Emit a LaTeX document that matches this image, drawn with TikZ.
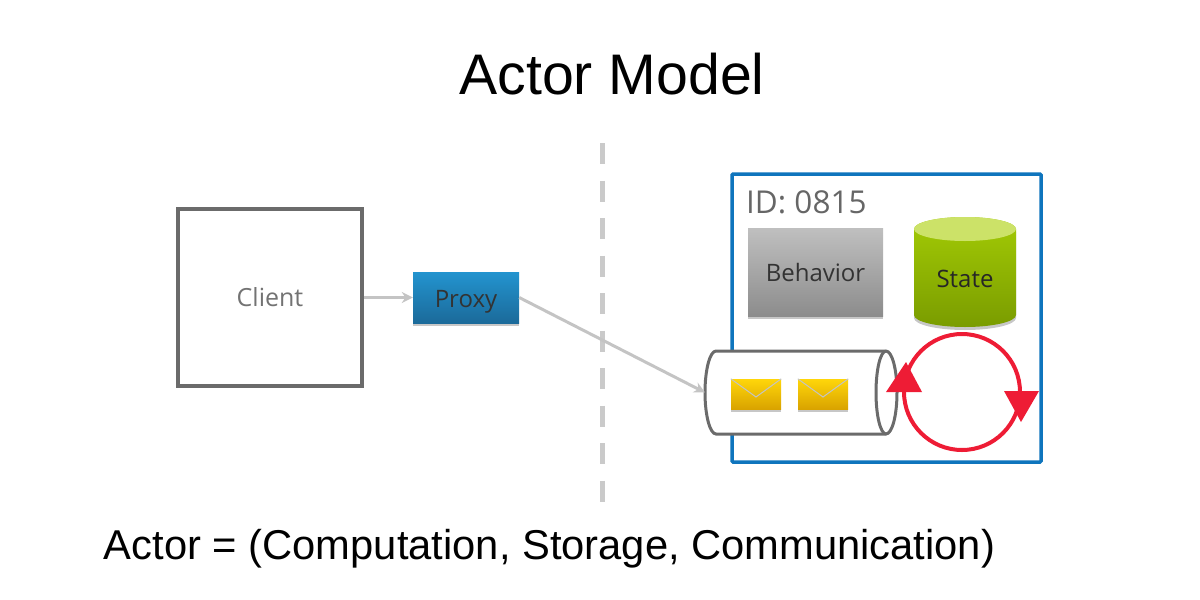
\documentclass[tikz,border=0pt]{standalone}
\usepackage{fontspec}
\setmainfont{Liberation Sans}
\newfontfamily\labelfont{Open Sans}
\usetikzlibrary{arrows.meta,shadows}
\definecolor{boxgray}{HTML}{6B6B6B}
\definecolor{linkgray}{HTML}{C4C4C4}
\definecolor{actorblue}{HTML}{0F75BD}
\definecolor{loopred}{HTML}{EE1C35}
\definecolor{proxytop}{HTML}{2394CF}
\definecolor{proxybot}{HTML}{1B6A9A}
\definecolor{statetop}{HTML}{A3CB05}
\definecolor{statebot}{HTML}{7A9C00}
\definecolor{statelid}{HTML}{CCE268}
\definecolor{mailtop}{HTML}{FFD60A}
\definecolor{mailbot}{HTML}{D9A300}
\tikzset{
  link/.style={draw=linkgray, line width=3pt, -{Stealth[length=11pt,width=11pt]}},
  softshadow/.style={drop shadow={shadow xshift=0pt, shadow yshift=-3pt, opacity=.22, fill=black}},
  mail/.style={rectangle, minimum width=50pt, minimum height=30pt, inner sep=0pt, top color=mailtop, bottom color=mailbot, softshadow},
  flap/.style={draw=linkgray, line width=1pt},
  tip/.style={fill=loopred},
}
\begin{document}
\begin{tikzpicture}[x=1pt, y=-1pt]
\useasboundingbox (0,0) rectangle (1200,600);
\node[font=\fontsize{57.2}{60}\selectfont] (title) at (612,74){Actor Model};
\node[font=\fontsize{41.7}{46}\selectfont] (formula) at (549.5,549){Actor = (Computation, Storage, Communication)};
\coordinate (cutTop) at (602,143);
\coordinate (cutBot) at (602,503);
\draw[draw=linkgray!90!white, line width=5pt, dash pattern=on 21pt off 16.5pt](cutTop) -- (cutBot);
\node[rectangle, draw=boxgray, line width=3.5pt, minimum width=184pt, minimum height=177pt, font=\labelfont\fontsize{25}{28}\selectfont, text=black!55] (client) at (270,297.5){Client};
\node[rectangle, minimum width=106pt, minimum height=51pt, inner sep=0pt, top color=proxytop, bottom color=proxybot, softshadow, font=\labelfont\fontsize{24}{27}\selectfont, text=black!80, text depth=0pt] (proxy) at (466,297.5){\raisebox{-3pt}{Proxy}};
\node[rectangle, draw=actorblue, line width=3.5pt, rounded corners=1pt, minimum width=309pt, minimum height=288pt, inner sep=0pt] (actor) at (886.5,318){};
\node[anchor=west, font=\labelfont\fontsize{31.5}{34}\selectfont, text=black!60, inner sep=0pt] (id) at (746,202){ID: 0815};
\node[rectangle, minimum width=135pt, minimum height=88pt, inner sep=0pt, top color=black!25, bottom color=black!45, softshadow, font=\labelfont\fontsize{24}{27}\selectfont, text=black!80] (behavior) at (815.5,272){Behavior};
\shade[top color=statetop, bottom color=statebot, softshadow] (914,229) -- (914,315) arc[start angle=180, end angle=0, x radius=51, y radius=12] -- (1016,229) arc[start angle=0, end angle=-180, x radius=51, y radius=12] -- cycle;
\fill[statelid] (965,229) ellipse[x radius=51, y radius=12];
\node[font=\labelfont\fontsize{24}{27}\selectfont, text=black!85] (state) at (965,279){State};
\draw[draw=boxgray, fill=white, line width=3pt] (716,351) -- (886,351) arc[start angle=-90, end angle=90, x radius=11, y radius=41.5] -- (716,434) arc[start angle=90, end angle=270, x radius=11, y radius=41.5] -- cycle;
\draw[draw=boxgray, line width=3pt] (886,351) arc[start angle=270, end angle=90, x radius=10, y radius=41.5];
\coordinate (queueIn) at (705,392.5);
\node[mail] (mail1) at (756,394){};
\node[mail] (mail2) at (823,394){};
\draw[flap](mail1.north west) -- ([yshift=-3pt]mail1.center) -- (mail1.north east);
\draw[flap](mail2.north west) -- ([yshift=-3pt]mail2.center) -- (mail2.north east);
\draw[link](client) -- (proxy);
\draw[link](proxy.east) -- (queueIn);
\node[circle, draw=loopred, line width=4pt, minimum size=116pt, inner sep=0pt] (loop) at (962,392){};
\fill[tip] (906,362) -- (886,392) -- (922,392) -- cycle;
\fill[tip] (1021,422) -- (1004,391) -- (1039,391) -- cycle;
\end{tikzpicture}
\end{document}
